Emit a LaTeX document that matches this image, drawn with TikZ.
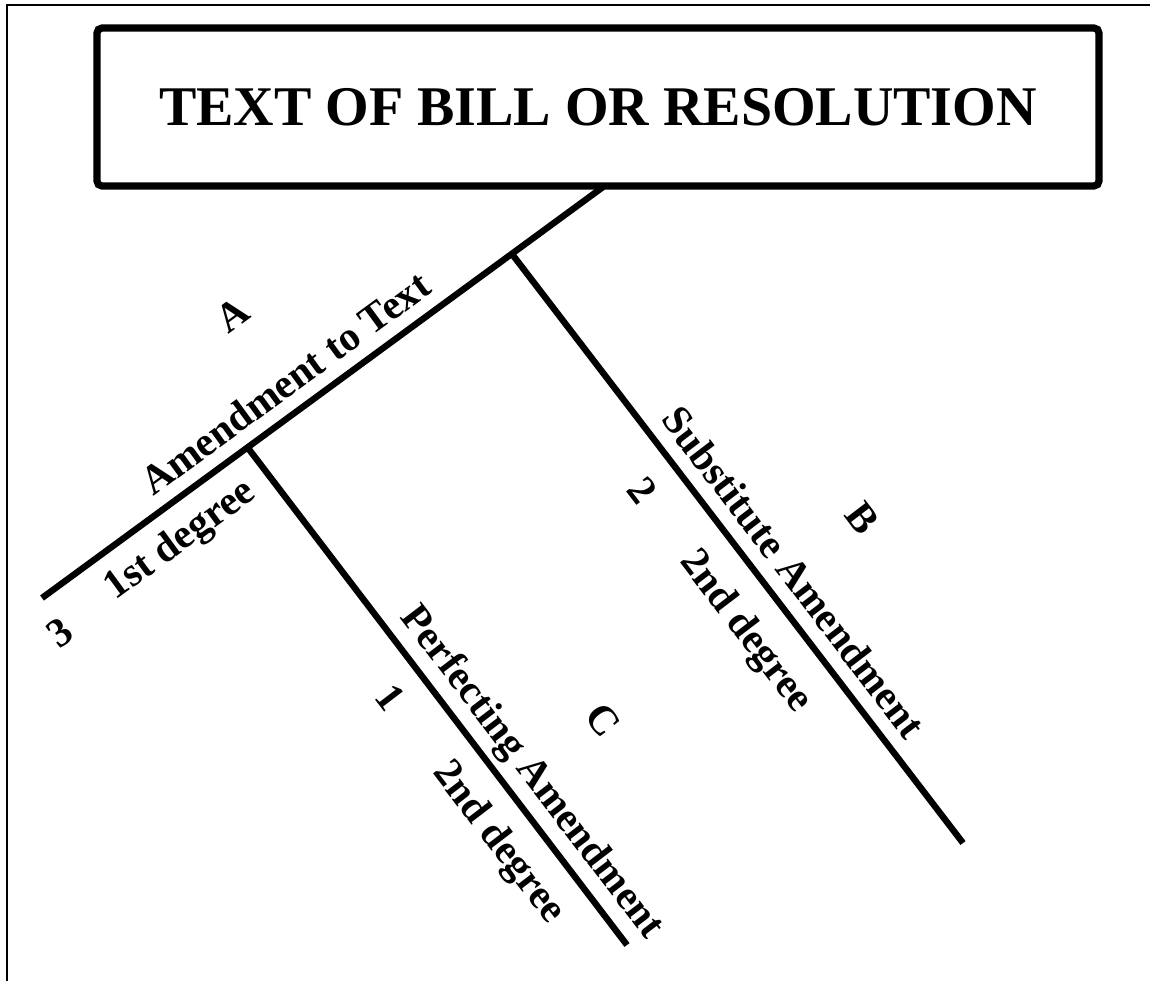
\documentclass[tikz,border=0pt]{standalone}
\usepackage{fontspec}
\setmainfont{Liberation Serif}
\begin{document}
\begin{tikzpicture}[x=0.5pt,y=-0.5pt,
  frame/.style={line width=1pt},
  stem/.style={line width=3.2pt},
  lbl/.style={font=\fontsize{20.5pt}{24pt}\selectfont\bfseries, inner sep=0pt},
  mainlbl/.style={lbl, rotate=36.2},
  branchlbl/.style={lbl, rotate=-52.6},
  titlebox/.style={draw, line width=3.6pt, rounded corners=2.5pt, minimum width=501pt, minimum height=79pt, inner sep=0pt,
    font=\fontsize{28pt}{32pt}\selectfont\bfseries}
]
\useasboundingbox (0,0) rectangle (1150,981);
% frame
\coordinate (ftl) at (7,5);
\coordinate (ftr) at (1150,5);
\coordinate (fbl) at (7,981);
\draw[frame] (fbl) -- (ftl) -- (ftr);
% title box
\node[titlebox] (box) at (598,107) {TEXT OF BILL OR RESOLUTION};
% lines
\coordinate (mtop) at (603,187);
\coordinate (mend) at (42,598);
\coordinate (bj) at (512,254);
\coordinate (bend) at (963,843);
\coordinate (cj) at (248,448);
\coordinate (cend) at (627,945);
\draw[stem] (mtop) -- (mend);
\draw[stem] (bj) -- (bend);
\draw[stem] (cj) -- (cend);
% labels on main line
\node[mainlbl] (la) at (232,315) {A};
\node[mainlbl] (lamend) at (285,383) {Amendment to Text};
\node[mainlbl] (lfirst) at (181,541) {1st degree};
\node[mainlbl] (l3) at (60,633) {3};
% labels on branch C
\node[branchlbl] (l1) at (390,697) {1};
\node[branchlbl] (lperf) at (531,773) {Perfecting Amendment};
\node[branchlbl] (lc2nd) at (498,843) {2nd degree};
\node[branchlbl] (lc) at (603,720) {C};
% labels on branch B
\node[branchlbl] (l2) at (642,490) {2};
\node[branchlbl] (lsub) at (794,572) {Substitute Amendment};
\node[branchlbl] (lb2nd) at (745,632) {2nd degree};
\node[branchlbl] (lb) at (862,518) {B};
\end{tikzpicture}
\end{document}
